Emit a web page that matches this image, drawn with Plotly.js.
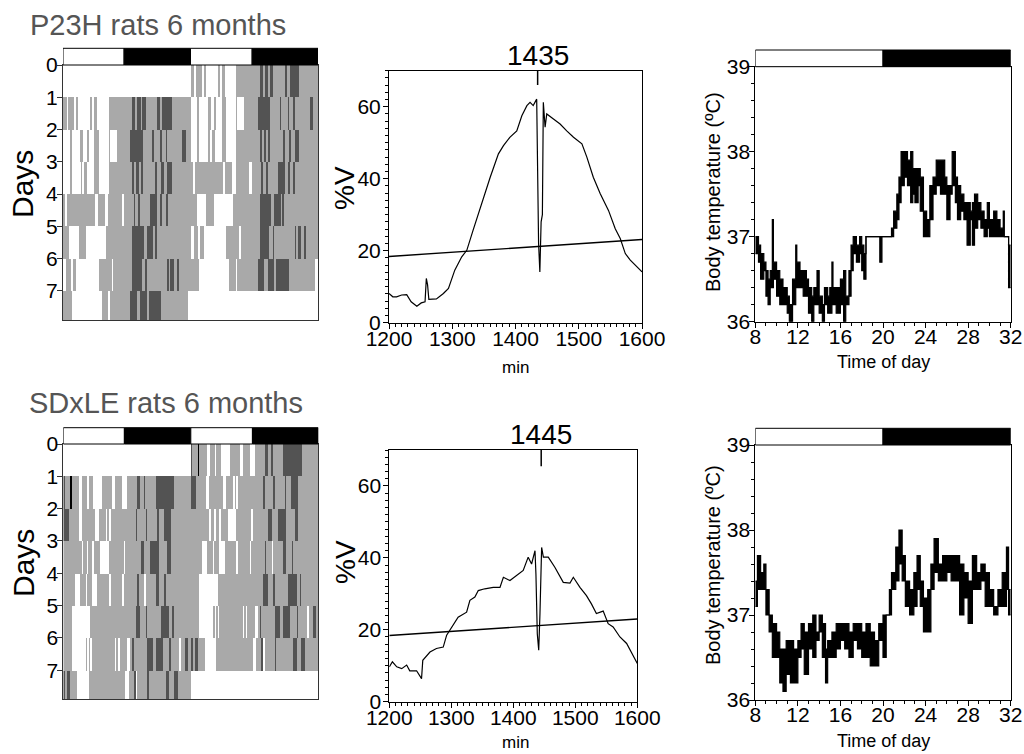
<!DOCTYPE html>
<html><head><meta charset="utf-8">
<script src="https://cdn.plot.ly/plotly-3.0.1.min.js"></script>
<style>html,body{margin:0;padding:0;background:#fff}#chart{width:1024px;height:754px}</style>
</head><body><div id="chart"></div>
<script>
// ================= DATA =================
const dayLabels = [0, 1, 2, 3, 4, 5, 6, 7];
// activity level: 0 none, 1 low (light gray), 2 high (dark gray), 3 max (black)
// each day: list of [startHour, level] segments (segment lasts until the next start)
const p23hDay1 = [[0,1],[0.7,0],[1.0,1],[2.1,0],[2.5,1],[2.9,0],[5.1,1],[5.5,0],[5.9,1],[6.4,0],[8.6,1],[13.0,2],[13.6,1],[14.0,2],[14.6,1],[14.9,2],[15.6,1],[17.7,2],[18.2,1],[18.7,2],[20.5,1]];
const p23hDay2 = [[0,0],[1.3,1],[1.6,0],[3.2,1],[3.8,0],[4.5,1],[4.8,0],[5.9,1],[6.7,0],[8.6,1],[8.8,0],[10.1,1],[12.7,2],[15.0,1],[16.8,2],[17.1,1],[18.3,2],[18.6,1],[19.3,2],[19.6,1],[22.4,2],[23.1,1]];
const p23hDay3 = [[0,0],[1.3,1],[1.6,0],[3.3,1],[3.6,0],[4.0,1],[4.6,0],[5.9,1],[6.7,0],[8.6,1],[13.0,2],[13.4,1],[13.8,2],[14.3,1],[14.6,2],[15.0,1],[17.4,2],[17.7,1],[18.5,2],[19.0,1],[19.6,2],[20.5,1]];
const p23hDay4 = [[0,1],[0.4,0],[0.8,1],[6.1,0],[6.5,1],[7.9,0],[8.5,1],[11.1,0],[11.5,1],[13.3,2],[13.6,1],[14.2,2],[14.5,1],[16.4,2],[17.7,1],[18.3,2],[18.7,1],[19.3,2],[19.7,1]];
const p23hDay5 = [[0,1],[1.2,0],[3.0,1],[4.4,0],[8.0,1],[13.0,2],[15.2,1],[15.8,2],[17.0,1],[17.3,2],[17.6,1]];
const p23hDay6 = [[0,0],[0.6,1],[1.5,0],[1.8,1],[2.5,0],[6.7,1],[9.2,0],[9.5,1],[13.0,2],[14.8,1],[15.5,2],[15.8,1],[19.6,2],[19.9,1],[20.2,2],[20.8,1],[21.4,2],[21.8,1]];
const p23hDay7 = [[0,1],[1.6,0],[7.3,1],[8.5,0],[8.8,1],[12.7,2],[13.9,1],[14.5,2],[15.8,1],[16.1,2],[18.5,1],[23.5,0]];

const sdleDay1 = [[0,2],[0.3,1],[1.3,3],[1.6,1],[3.0,0],[3.6,1],[4.5,0],[4.8,1],[5.6,0],[7.3,1],[9.2,0],[9.8,1],[11.1,0],[12.0,1],[13.9,2],[14.5,1],[15.1,2],[15.4,1],[17.4,2],[20.9,1]];
const sdleDay2 = [[0,2],[1.0,1],[2.9,0],[3.5,1],[6.0,0],[6.7,1],[8.0,0],[8.3,1],[8.6,0],[8.9,1],[13.6,2],[13.9,1],[15.5,2],[15.8,1],[17.7,2],[18.0,1],[18.9,2],[20.2,1]];
const sdleDay3 = [[0,1],[3.5,0],[3.8,1],[4.4,0],[4.7,1],[5.4,0],[5.7,1],[7.0,0],[8.6,1],[11.4,0],[11.7,1],[14.6,2],[15.2,1],[16.4,2],[18.0,1],[19.6,2],[20.2,1]];
const sdleDay4 = [[0,1],[2.2,0],[3.1,1],[4.2,0],[4.4,1],[5.4,0],[6.4,1],[8.6,0],[8.9,1],[11.1,0],[11.4,1],[13.9,2],[14.2,1],[15.2,0],[15.5,1],[17.4,2],[18.0,1],[19.0,2],[19.3,1]];
const sdleDay5 = [[0,1],[1.6,0],[5.1,1],[13.6,2],[14.5,1],[15.5,2],[15.8,1],[18.3,2],[19.9,1],[20.5,2],[20.8,1]];
const sdleDay6 = [[0,1],[1.6,0],[4.2,1],[4.5,0],[4.8,1],[5.1,0],[5.4,1],[9.8,0],[10.0,1],[10.3,0],[10.6,1],[12.0,0],[12.6,1],[13.0,2],[13.3,1],[15.8,2],[16.8,1],[17.4,2],[18.7,1],[19.9,2],[20.2,1],[21.8,0],[22.2,1],[23.0,2],[23.5,1]];
const sdleDay7 = [[0,2],[0.4,1],[0.7,2],[1.3,1],[2.6,0],[4.8,1],[11.7,0],[12.3,1],[13.3,2],[13.6,0],[13.9,1],[15.8,2],[16.1,1],[19.3,2],[19.9,1],[20.8,2],[21.5,1]];

// light/dark schedule edges (hours); phases alternate light, dark, ...
const actoLDEdges = [0, 11.5, 24, 35.6, 48];
const tempLDEdges = [8, 20, 32];

// periodograms
const p23hPeriod = [1200,1206,1212,1220,1228,1235,1244,1251,1257,1259,1261,1263,1275,1286,1294,1304,1315,1323,1333,1346,1360,1373,1381,1391,1402,1410,1418,1423,1428,1433.5,1435,1436.5,1438.5,1440.5,1442.5,1444,1446.8,1449.4,1460,1470.5,1481,1491.7,1505,1512.8,1523,1534,1547,1557.7,1565.6,1573.6,1581.5,1589.4,1600];
const p23hPower  = [8.1,7.2,7.2,7.7,7.8,5.8,4.6,5.5,5.8,12.3,10.5,6.5,6.6,8.1,9.5,14.6,18.3,20.1,25.7,33,40.4,46.9,49.2,51.5,53.3,57.5,60.3,61.2,60.3,62.1,46,22,14.1,28,30,61.2,54.3,58,56.6,55.2,53.3,51.5,49.7,46,40.4,35.8,31.2,26.1,23.4,19.2,17.4,16,14.1];
const sdlePeriod = [1200,1205,1212,1220,1228,1233,1244,1252,1254,1265.6,1276,1287,1292.5,1300.5,1311,1324.7,1330,1338,1343.5,1354,1367.7,1378.5,1384,1394.6,1405,1416,1424,1429.5,1435,1436.5,1438.7,1441,1443,1445.7,1448.5,1456.4,1467,1480.6,1491.4,1496.8,1507.5,1518,1526,1534,1545,1553,1561,1572,1582.8,1591,1600];
const sdlePower  = [9.7,11.1,9.7,9.2,10.2,8.6,8.6,6.4,11.5,13.8,14.8,15.2,18.5,20.8,23.5,24.9,28.2,29.1,30.9,31.4,31.8,31.8,34.6,33.7,35.1,36.5,40.2,38.3,42,35.5,18.9,14.3,24.5,42.9,40.2,40.2,37.4,33.2,33,34.6,31.8,29.5,27.2,24.5,25.2,21.7,20.8,18,16.2,13.4,10.6];
const sigPeriod = [1200, 1600];
const p23hSig = [18.4, 23.1];
const sdleSig = [18.4, 23.0];
const peakPeriods = [1435, 1445];

// body temperature: per time bin (bin start, h) the lowest and highest reading
const p23hTempTime = [8.0,8.3,8.5,8.8,9.0,9.2,9.4,9.6,9.7,10.0,10.3,10.6,11.0,11.2,11.5,11.8,11.9,12.2,12.5,12.8,13.0,13.3,13.5,13.8,14.0,14.3,14.5,14.8,15.0,15.2,15.3,15.6,16.0,16.3,16.5,16.8,17.0,17.2,17.5,17.8,18.0,18.2,18.4,19.7,19.9,20.8,21.0,21.3,21.5,21.7,22.0,22.3,22.6,22.8,23.0,23.3,23.5,23.8,24.1,24.4,24.7,25.0,25.4,25.8,26.0,26.3,26.5,26.8,27.0,27.3,27.6,27.9,28.2,28.4,28.6,28.9,29.2,29.5,29.8,30.0,30.4,30.7,31.0,31.3,31.4,31.8];
const p23hTempLow  = [36.8,36.7,36.5,36.6,36.3,36.2,36.4,36.4,36.5,36.3,36.2,36.2,36.1,36.0,36.2,36.4,36.4,36.4,36.3,36.3,36.1,36.0,36.2,36.2,36.1,36.0,36.2,36.1,36.1,36.2,36.2,36.1,36.2,36.0,36.2,36.3,36.6,36.8,36.7,36.8,36.6,36.5,37.0,36.7,37.0,37.0,37.1,37.2,37.4,37.6,37.7,37.6,37.4,37.5,37.4,37.6,37.3,37.0,37.0,37.2,37.5,37.6,37.5,37.5,37.2,37.5,37.6,37.4,37.2,37.3,37.2,36.9,37.2,36.9,37.1,37.2,37.1,37.0,37.1,37.0,37.0,37.0,37.0,37.0,37.0,36.4];
const p23hTempHigh = [37.0,36.9,36.8,36.7,36.6,36.5,36.6,37.2,36.7,36.6,36.5,36.4,36.3,36.2,36.5,36.9,36.7,36.6,36.6,36.5,36.4,36.3,36.4,36.6,36.3,36.2,36.4,36.3,36.4,36.7,36.4,36.4,36.5,36.6,36.3,36.6,36.9,37.0,36.9,37.0,36.9,36.8,37.0,37.0,37.0,37.1,37.3,37.5,37.7,38.0,38.0,37.9,38.0,37.8,37.8,37.8,37.7,37.3,37.2,37.6,37.7,37.9,37.9,37.7,37.6,37.6,38.0,37.7,37.6,37.5,37.4,37.4,37.3,37.4,37.5,37.4,37.3,37.2,37.4,37.2,37.3,37.2,37.1,37.3,37.0,36.9];

const sdleTempTime = [8.0,8.2,8.5,8.8,9.0,9.3,9.6,10.0,10.3,10.6,10.9,11.3,11.6,12.0,12.3,12.6,13.0,13.4,13.7,14.0,14.3,14.6,14.8,15.2,15.6,16.0,16.4,16.8,17.2,17.6,18.0,18.4,18.8,19.2,19.6,20.0,20.3,20.6,20.8,21.2,21.5,21.8,22.1,22.5,22.9,23.2,23.5,23.8,24.2,24.5,24.8,25.2,25.6,26.0,26.4,26.8,27.2,27.6,28.0,28.4,28.8,29.2,29.6,30.0,30.4,30.8,31.2,31.6,31.8];
const sdleTempLow  = [37.1,37.3,37.3,37.3,37.0,36.8,36.5,36.5,36.2,36.1,36.3,36.2,36.2,36.5,36.6,36.3,36.6,36.5,36.7,36.8,36.5,36.2,36.5,36.5,36.6,36.7,36.6,36.5,36.7,36.6,36.5,36.5,36.4,36.4,36.7,36.5,37.0,37.0,37.3,37.4,37.6,37.4,37.1,37.0,37.1,37.3,37.1,36.8,36.8,37.3,37.5,37.4,37.4,37.5,37.4,37.4,37.0,37.2,36.9,37.3,37.3,37.4,37.1,37.1,37.0,37.1,37.1,37.3,37.0];
const sdleTempHigh = [37.4,37.7,37.5,37.6,37.3,37.0,36.9,36.8,36.6,36.6,36.7,36.7,36.6,36.7,36.9,36.8,36.9,37.0,36.8,37.0,36.9,36.6,36.7,36.8,36.9,36.9,36.9,36.8,36.9,36.9,36.8,36.9,36.8,36.7,36.9,37.0,37.0,37.3,37.5,37.8,38.0,37.7,37.4,37.3,37.5,37.7,37.4,37.2,37.3,37.6,37.9,37.6,37.7,37.7,37.7,37.7,37.6,37.5,37.4,37.7,37.5,37.6,37.5,37.3,37.1,37.3,37.5,37.8,37.3];
const tempEnd = 32;

// ================= BUILD =================
const W = 1024, H = 754;
const fx = p => p / W;            // pixel -> paper x
const fy = p => 1 - p / H;        // pixel -> paper y
const FONT = 'Liberation Sans, Arial, Helvetica, sans-serif';

function levelAt(segs, h) { let lv = 0; for (const s of segs) { if (s[0] <= h) lv = s[1]; else break; } return lv; }
const BIN = 0.1;
const binCenters = [];
for (let c = 0; c < 480; c++) binCenters.push((c + 0.5) * BIN);
function actoZ(days) {
  const all = [null].concat(days, [null]);
  const z = [];
  for (let r = 0; r < 8; r++) {
    z.push(binCenters.map(t => {
      const d = t < 24 ? r : r + 1;
      const h = t < 24 ? t : t - 24;
      return all[d] ? levelAt(all[d], h) : 0;
    }));
  }
  return z;
}
const rowCenters = dayLabels.map(d => d + 0.5);
const actoScale = [[0,'#ffffff'],[0.2,'#ffffff'],[0.2,'#a9a9a9'],[0.5,'#a9a9a9'],[0.5,'#535353'],[0.8,'#535353'],[0.8,'#000000'],[1,'#000000']];

function actoTrace(days, xa, ya) {
  return { type: 'heatmap', x: binCenters, y: rowCenters, z: actoZ(days), zmin: 0, zmax: 3,
    colorscale: actoScale, showscale: false, zsmooth: false, hoverinfo: 'skip', xaxis: xa, yaxis: ya };
}
function stepX(t) { return t.concat([tempEnd]); }
function stepY(v) { return v.concat([v[v.length - 1]]); }
function tempTraces(t, lo, hi, xa, ya) {
  return [
    { type: 'scatter', mode: 'lines', x: stepX(t), y: stepY(hi), line: { shape: 'hv', color: '#000', width: 1.2 }, xaxis: xa, yaxis: ya, hoverinfo: 'skip' },
    { type: 'scatter', mode: 'lines', x: stepX(t), y: stepY(lo), line: { shape: 'hv', color: '#000', width: 1.2 }, fill: 'tonexty', fillcolor: '#000', xaxis: xa, yaxis: ya, hoverinfo: 'skip' }
  ];
}
function perTraces(px, py, sig, xa, ya) {
  return [
    { type: 'scatter', mode: 'lines', x: sigPeriod, y: sig, line: { color: '#000', width: 1.4 }, xaxis: xa, yaxis: ya, hoverinfo: 'skip' },
    { type: 'scatter', mode: 'lines', x: px, y: py, line: { color: '#000', width: 1.2 }, xaxis: xa, yaxis: ya, hoverinfo: 'skip' }
  ];
}

const data = [
  actoTrace([p23hDay1,p23hDay2,p23hDay3,p23hDay4,p23hDay5,p23hDay6,p23hDay7], 'x', 'y'),
  ...perTraces(p23hPeriod, p23hPower, p23hSig, 'x2', 'y2'),
  ...tempTraces(p23hTempTime, p23hTempLow, p23hTempHigh, 'x3', 'y3'),
  actoTrace([sdleDay1,sdleDay2,sdleDay3,sdleDay4,sdleDay5,sdleDay6,sdleDay7], 'x4', 'y4'),
  ...perTraces(sdlePeriod, sdlePower, sdleSig, 'x5', 'y5'),
  ...tempTraces(sdleTempTime, sdleTempLow, sdleTempHigh, 'x6', 'y6')
];

const tickFont = { family: FONT, size: 21, color: '#000' };
const minorX = (d) => ({ dtick: d, ticks: 'outside', ticklen: 3, tickwidth: 1, tickcolor: '#000' });
function actoX(dom, anchor) { return { domain: dom, anchor: anchor, range: [0, 48], showticklabels: false, ticks: '', showline: true, mirror: true, linecolor: '#333', linewidth: 1, showgrid: false, zeroline: false, fixedrange: true }; }
function actoY(dom, anchor) { return { domain: dom, anchor: anchor, range: [7.9, 0], tickvals: dayLabels, ticks: 'outside', ticklen: 5, tickwidth: 1, tickcolor: '#333', tickfont: tickFont, ticklabelstandoff: -5, showline: true, mirror: true, linecolor: '#333', linewidth: 1, showgrid: false, zeroline: false, fixedrange: true }; }
function perX(dom, anchor) { return { domain: dom, anchor: anchor, range: [1200, 1600], tickmode: 'linear', tick0: 1200, dtick: 100, ticks: 'outside', ticklen: 5, tickwidth: 1, tickcolor: '#000', tickfont: tickFont, ticklabelstandoff: -8, minor: minorX(10), showline: true, mirror: true, linecolor: '#000', linewidth: 1, showgrid: false, zeroline: false, fixedrange: true }; }
function perY(dom, anchor) { return { domain: dom, anchor: anchor, range: [0, 70], tickmode: 'linear', tick0: 0, dtick: 20, ticks: 'outside', ticklen: 5, tickwidth: 1, tickcolor: '#000', tickfont: tickFont, ticklabelstandoff: -2, minor: minorX(2), showline: true, mirror: true, linecolor: '#000', linewidth: 1, showgrid: false, zeroline: false, fixedrange: true }; }
function tempX(dom, anchor) { return { domain: dom, anchor: anchor, range: [8, 32], tickmode: 'linear', tick0: 8, dtick: 4, ticks: 'outside', ticklen: 5, tickwidth: 1, tickcolor: '#000', tickfont: tickFont, ticklabelstandoff: -9, minor: minorX(1), showline: true, mirror: true, linecolor: '#000', linewidth: 1, showgrid: false, zeroline: false, fixedrange: true }; }
function tempY(dom, anchor) { return { domain: dom, anchor: anchor, range: [36, 39], tickmode: 'linear', tick0: 36, dtick: 1, ticks: 'outside', ticklen: 5, tickwidth: 1, tickcolor: '#000', tickfont: tickFont, ticklabelstandoff: -5, minor: minorX(0.2), showline: true, mirror: true, linecolor: '#000', linewidth: 1, showgrid: false, zeroline: false, fixedrange: true }; }

// panel geometry (pixels)
const G = {
  acto1: { x: [63, 318], y: [65, 320], bar: [48.3, 65] },
  per1:  { x: [389, 642], y: [70.7, 322.7] },
  temp1: { x: [755.3, 1010.7], y: [66.7, 321.7], bar: [50, 66.7] },
  acto2: { x: [63.3, 318.3], y: [444, 699.3], bar: [427.7, 444] },
  per2:  { x: [389.3, 637.3], y: [450, 701.7] },
  temp2: { x: [755.3, 1010.7], y: [445, 700], bar: [428.3, 445] }
};
const dx = g => [fx(g.x[0]), fx(g.x[1])];
const dy = g => [fy(g.y[1]), fy(g.y[0])];

function ldShapes(edges, xref, bar) {
  const s = [];
  for (let i = 0; i < edges.length - 1; i++) {
    s.push({ type: 'rect', xref: xref, yref: 'paper', x0: edges[i], x1: edges[i + 1], y0: fy(bar[1]), y1: fy(bar[0]),
      fillcolor: i % 2 === 0 ? '#ffffff' : '#000000', line: { color: '#000', width: 1 }, layer: 'above' });
  }
  return s;
}
const shapes = [
  ...ldShapes(actoLDEdges, 'x', G.acto1.bar),
  ...ldShapes(tempLDEdges, 'x3', G.temp1.bar),
  ...ldShapes(actoLDEdges, 'x4', G.acto2.bar),
  ...ldShapes(tempLDEdges, 'x6', G.temp2.bar),
  { type: 'line', xref: 'x2', yref: 'y2', x0: peakPeriods[0], x1: peakPeriods[0], y0: 70, y1: 66, line: { color: '#000', width: 1.5 } },
  { type: 'line', xref: 'x5', yref: 'y5', x0: peakPeriods[1], x1: peakPeriods[1], y0: 70, y1: 65.5, line: { color: '#000', width: 1.5 } }
];

function ann(text, px, py, size, opts) {
  return Object.assign({ text: text, xref: 'paper', yref: 'paper', x: fx(px), y: fy(py), showarrow: false,
    xanchor: 'center', yanchor: 'middle', font: { family: FONT, size: size, color: '#000' } }, opts || {});
}
const annotations = [
  ann('P23H rats 6 months', 28, 25, 29, { xanchor: 'left', font: { family: FONT, size: 29, color: '#555' } }),
  ann('SDxLE rats 6 months', 27, 403, 29, { xanchor: 'left', font: { family: FONT, size: 29, color: '#555' } }),
  { text: String(peakPeriods[0]), xref: 'x2', yref: 'paper', x: peakPeriods[0], y: fy(55), showarrow: false, xanchor: 'center', yanchor: 'middle', font: { family: FONT, size: 28, color: '#000' } },
  { text: String(peakPeriods[1]), xref: 'x5', yref: 'paper', x: peakPeriods[1], y: fy(435), showarrow: false, xanchor: 'center', yanchor: 'middle', font: { family: FONT, size: 28, color: '#000' } },
  ann('Days', 23, 184, 30, { textangle: -90 }),
  ann('Days', 23, 563, 30, { textangle: -90 }),
  ann('%V', 345, 188, 28, { textangle: -90 }),
  ann('%V', 345, 562, 28, { textangle: -90 }),
  ann('min', 515, 367, 17),
  ann('min', 515, 742, 17),
  ann('Body temperature (ºC)', 713, 192, 20, { textangle: -90 }),
  ann('Body temperature (ºC)', 713, 565, 20, { textangle: -90 }),
  ann('Time of day', 883, 362, 18),
  ann('Time of day', 883, 741, 18)
];

const layout = {
  width: W, height: H, margin: { l: 0, r: 0, t: 0, b: 0 }, paper_bgcolor: '#fff', plot_bgcolor: '#fff',
  showlegend: false, font: { family: FONT, color: '#000' },
  xaxis: actoX(dx(G.acto1), 'y'),  yaxis: actoY(dy(G.acto1), 'x'),
  xaxis2: perX(dx(G.per1), 'y2'),  yaxis2: perY(dy(G.per1), 'x2'),
  xaxis3: tempX(dx(G.temp1), 'y3'), yaxis3: tempY(dy(G.temp1), 'x3'),
  xaxis4: actoX(dx(G.acto2), 'y4'), yaxis4: actoY(dy(G.acto2), 'x4'),
  xaxis5: perX(dx(G.per2), 'y5'),  yaxis5: perY(dy(G.per2), 'x5'),
  xaxis6: tempX(dx(G.temp2), 'y6'), yaxis6: tempY(dy(G.temp2), 'x6'),
  shapes: shapes, annotations: annotations
};
Plotly.newPlot('chart', data, layout, { displayModeBar: false, staticPlot: true });
</script>
</body></html>
